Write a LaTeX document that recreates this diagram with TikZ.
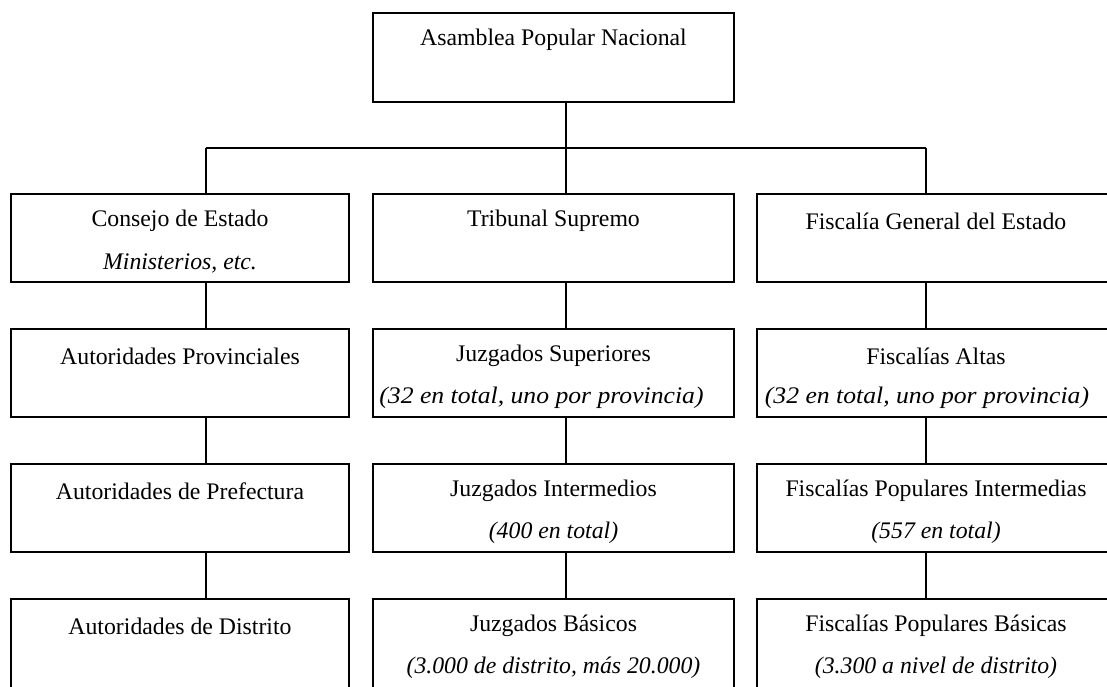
\documentclass[tikz,border=0pt]{standalone}
\usepackage{fontspec}
\setmainfont{Liberation Serif}
\usetikzlibrary{calc}

\newcommand\widetxt[1]{\scalebox{1.08}[1]{#1}}

\tikzset{
  box/.style={draw, line width=1.4pt, inner sep=0pt, outer sep=0pt, minimum height=2.2cm},
  boxA/.style={box, minimum width=8.45cm},
  boxB/.style={box, minimum width=9.025cm},
  boxC/.style={box, minimum width=8.95cm},
  head/.style={inner sep=0pt, font=\fontsize{16.9}{19}\selectfont},
  sub/.style={inner sep=0pt, font=\fontsize{16.9}{19}\selectfont\itshape},
  link/.style={line width=1.4pt}
}

\begin{document}
\begin{tikzpicture}[x=0.025cm, y=-0.025cm]
    \clip (0,0) rectangle (1107,686);
    \fill[white] (0,0) rectangle (1107,686);

    \node[boxB, minimum height=2.225cm] (apn) at (553.5,57.5) {};
    \node[head] (apn-t) at ($(apn.north)+(0,27)$) {Asamblea Popular Nacional};

    \node[boxA] (ce) at (180,238) {};
    \node[boxB] (ts) at (553.5,238) {};
    \node[boxC] (fge) at (936,238) {};
    \node[head] (ce-t) at ($(ce.north)+(0,27)$) {Consejo de Estado};
    \node[sub] (ce-s) at ($(ce.north)+(0,69)$) {Ministerios, etc.};
    \node[head] (ts-t) at ($(ts.north)+(0,27)$) {Tribunal Supremo};
    \node[head] (fge-t) at ($(fge.north)+(0,27)$) {Fiscalía General del Estado};

    \node[boxA] (ap) at (180,373) {};
    \node[boxB] (js) at (553.5,373) {};
    \node[boxC] (fa) at (936,373) {};
    \node[head] (ap-t) at ($(ap.north)+(0,27)$) {Autoridades Provinciales};
    \node[head] (js-t) at ($(js.north)+(0,27)$) {Juzgados Superiores};
    \node[sub] (js-s) at ($(js.north)+(-12,69)$) {\widetxt{(32 en total, uno por provincia)}};
    \node[head] (fa-t) at ($(fa.north)+(0,27)$) {Fiscalías Altas};
    \node[sub] (fa-s) at ($(fa.north)+(-9,69)$) {\widetxt{(32 en total, uno por provincia)}};

    \node[boxA] (apr) at (180,508) {};
    \node[boxB] (ji) at (553.5,508) {};
    \node[boxC] (fpi) at (936,508) {};
    \node[head] (apr-t) at ($(apr.north)+(0,27)$) {Autoridades de Prefectura};
    \node[head] (ji-t) at ($(ji.north)+(0,27)$) {Juzgados Intermedios};
    \node[sub] (ji-s) at ($(ji.north)+(0,69)$) {(400 en total)};
    \node[head] (fpi-t) at ($(fpi.north)+(0,27)$) {Fiscalías Populares Intermedias};
    \node[sub] (fpi-s) at ($(fpi.north)+(0,69)$) {(557 en total)};

    \node[boxA, minimum height=2.4cm] (ad) at (180,647) {};
    \node[boxB, minimum height=2.4cm] (jb) at (553.5,647) {};
    \node[boxC, minimum height=2.4cm] (fpb) at (936,647) {};
    \node[head] (ad-t) at ($(ad.north)+(0,27)$) {Autoridades de Distrito};
    \node[head] (jb-t) at ($(jb.north)+(0,27)$) {Juzgados Básicos};
    \node[sub] (jb-s) at ($(jb.north)+(0,69)$) {(3.000 de distrito, más 20.000)};
    \node[head] (fpb-t) at ($(fpb.north)+(0,27)$) {Fiscalías Populares Básicas};
    \node[sub] (fpb-s) at ($(fpb.north)+(0,69)$) {(3.300 a nivel de distrito)};

    \coordinate (busA) at (206,148);
    \coordinate (busB) at (566,148);
    \coordinate (busC) at (926,148);
    \draw[link] (busB |- apn.south) -- (busB);
    \draw[link] (busA) -- (busC);
    \draw[link] (busA) -- (busA |- ce.north);
    \draw[link] (busB) -- (busB |- ts.north);
    \draw[link] (busC) -- (busC |- fge.north);

    \draw[link] (busA |- ce.south) -- (busA |- ap.north);
    \draw[link] (busB |- ts.south) -- (busB |- js.north);
    \draw[link] (busC |- fge.south) -- (busC |- fa.north);
    \draw[link] (busA |- ap.south) -- (busA |- apr.north);
    \draw[link] (busB |- js.south) -- (busB |- ji.north);
    \draw[link] (busC |- fa.south) -- (busC |- fpi.north);
    \draw[link] (busA |- apr.south) -- (busA |- ad.north);
    \draw[link] (busB |- ji.south) -- (busB |- jb.north);
    \draw[link] (busC |- fpi.south) -- (busC |- fpb.north);
\end{tikzpicture}
\end{document}
